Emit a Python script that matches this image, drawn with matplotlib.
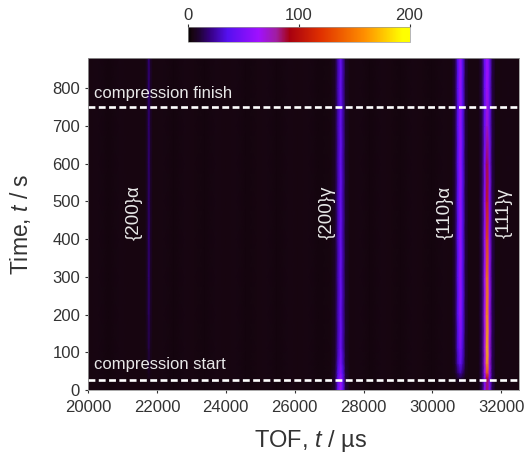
import numpy as np
import matplotlib
matplotlib.use('Agg')
import matplotlib.pyplot as plt
from matplotlib.colors import LinearSegmentedColormap

plt.rcParams['font.family'] = ['Liberation Sans', 'DejaVu Sans']
plt.rcParams['mathtext.fontset'] = 'custom'
plt.rcParams['mathtext.rm'] = 'Liberation Sans'
plt.rcParams['mathtext.it'] = 'Liberation Sans:italic'

# time rows (s)
time = [0, 20, 32, 45, 70, 110, 200, 300, 400, 500, 600, 700, 800, 881]

# background columns, same in every row
bg_tof_1 = [20000, 20300, 20600, 20900, 21200, 21650]
bg_val_1 = [4, 4.4, 3.7, 4.4, 4, 4]
bg_tof_2 = [21890, 22200, 22500, 22800, 23100, 23400, 23700, 24000, 24300, 24600, 24900, 25200, 25500, 25800, 26100, 26400, 26700, 27050]
bg_val_2 = [4, 4.4, 3.7, 4.4, 4, 3.7, 4.4, 4, 4.4, 3.7, 4, 4.4, 3.7, 4.4, 4, 4.4, 3.7, 4]
bg_tof_3 = [27610, 27900, 28200, 28500, 28800, 29100, 29400, 29700, 30000, 30300, 30560]
bg_val_3 = [4, 4.4, 3.7, 4.4, 4, 3.7, 4.4, 4, 3.7, 4.4, 4]
bg_tof_4 = [31060, 31340]
bg_val_4 = [4, 4]
bg_tof_5 = [31840, 32200, 32500]
bg_val_5 = [4, 4.4, 4]

# peak tables, one row per time
tof_200a = [21720, 21770, 21820]
peak_200a = [[4, 5, 4], [4, 5, 4], [5, 6, 5], [5, 8, 5], [6, 10, 6], [7, 13, 7], [9, 16, 9],
             [9, 18, 9], [9, 18, 9], [9, 17, 9], [9, 18, 9], [9, 18, 9], [9, 19, 9], [9, 19, 9]]

tof_200g = [27180, 27260, 27330, 27400, 27480]
peak_200g = [[12, 42, 66, 42, 12], [12, 42, 66, 42, 12], [12, 42, 66, 42, 12], [11, 36, 56, 36, 11],
             [10, 32, 50, 32, 10], [9, 28, 46, 28, 9], [9, 27, 44, 27, 9], [9, 27, 44, 27, 9],
             [9, 27, 44, 27, 9], [9, 27, 44, 27, 9], [9, 27, 43, 27, 9], [9, 27, 43, 27, 9],
             [9, 27, 43, 27, 9], [9, 27, 43, 27, 9]]

tof_110a = [30660, 30740, 30810, 30880, 30960]
peak_110a = [[4, 4, 4, 4, 4], [4, 5, 5, 5, 4], [5, 9, 12, 9, 5], [7, 17, 25, 17, 7],
             [9, 28, 42, 28, 9], [10, 33, 50, 33, 10], [12, 38, 60, 38, 12], [12, 38, 61, 38, 12],
             [12, 38, 61, 38, 12], [12, 38, 61, 38, 12], [12, 38, 61, 38, 12], [12, 38, 61, 38, 12],
             [12, 38, 62, 38, 12], [12, 38, 62, 38, 12]]

tof_111g = [31440, 31520, 31590, 31660, 31740]
peak_111g = [[14, 52, 85, 52, 14], [14, 52, 85, 52, 14], [14, 55, 100, 55, 14], [15, 62, 140, 62, 15],
             [15, 68, 165, 68, 15], [15, 68, 172, 68, 15], [15, 66, 160, 66, 15], [14, 62, 150, 62, 14],
             [14, 58, 130, 58, 14], [14, 55, 108, 55, 14], [13, 50, 88, 50, 13], [13, 44, 72, 44, 13],
             [13, 44, 66, 44, 13], [13, 44, 64, 44, 13]]

# colour bar anchors read from the strip at the top
cmap_pos = [0, 0.02, 0.05, 0.10, 0.18, 0.32, 0.40, 0.46, 0.6, 0.8, 0.97, 1]
cmap_col = ['#000000', '#170510', '#1e0430', '#350080', '#5510f0', '#a010ff', '#a01ea0', '#a80010',
            '#e03000', '#ff9000', '#ffff00', '#ffff00']
cmap = LinearSegmentedColormap.from_list('tof', list(zip(cmap_pos, cmap_col)), N=512)

n = len(time)
tof = np.array(bg_tof_1 + tof_200a + bg_tof_2 + tof_200g + bg_tof_3 + tof_110a + bg_tof_4 + tof_111g + bg_tof_5)
counts = np.hstack([
    np.tile(bg_val_1, (n, 1)), peak_200a,
    np.tile(bg_val_2, (n, 1)), peak_200g,
    np.tile(bg_val_3, (n, 1)), peak_110a,
    np.tile(bg_val_4, (n, 1)), peak_111g,
    np.tile(bg_val_5, (n, 1)),
])

W, H = 526, 454
fig = plt.figure(figsize=(W / 100, H / 100), dpi=100)
ax = fig.add_axes([88 / W, 1 - 390 / H, 430.5 / W, 332.5 / H])
mesh = ax.pcolormesh(tof, time, counts, cmap=cmap, vmin=0, vmax=200, shading='gouraud', rasterized=True)

ax.set_xlim(20000, 32500)
ax.set_ylim(0, 881)
ax.set_xticks(np.arange(20000, 32001, 2000))
ax.set_yticks(np.arange(0, 801, 100))
ax.tick_params(labelsize=12, length=2.2, width=0.8, color='#333333', labelcolor='#333333')
ax.tick_params(axis='x', pad=5)
ax.tick_params(axis='y', pad=3.5)
for s in ax.spines.values():
    s.set_color('#999999')
    s.set_linewidth(0.6)
ax.set_xlabel('TOF, $\\it{t}$ / \u00b5s', fontsize=17, color='#333333', labelpad=9)
ax.xaxis.label.set_x(0.516)
ax.set_ylabel('Time, $\\it{t}$ / s', fontsize=16.5, color='#333333', labelpad=14)

for t in [750, 27]:
    ax.plot([20000, 32500], [t, t], color='white', lw=1.9, dashes=(2.6, 1.3), dash_capstyle='butt')
ax.text(20170, 786, 'compression finish', color='#e8e8e8', fontsize=12, va='center')
ax.text(20170, 68, 'compression start', color='#e8e8e8', fontsize=12, va='center')

for x, label in [(21350, '{200}\u03b1'), (26950, '{200}\u03b3'), (30370, '{110}\u03b1'), (32090, '{111}\u03b3')]:
    ax.text(x, 470, label, color='#e8e8e8', fontsize=13.5, rotation=90, ha='center', va='center')

cax = fig.add_axes([187.5 / W, 1 - 42 / H, 222 / W, 15 / H])
cbar = fig.colorbar(mesh, cax=cax, orientation='horizontal')
cax.xaxis.set_ticks_position('top')
cax.set_xticks([0, 100, 200])
cax.tick_params(labelsize=12, length=2.2, width=0.8, color='#333333', labelcolor='#333333', pad=0.5)
cbar.outline.set_edgecolor('#999999')
cbar.outline.set_linewidth(0.5)

fig.savefig('out.png', dpi=100)
